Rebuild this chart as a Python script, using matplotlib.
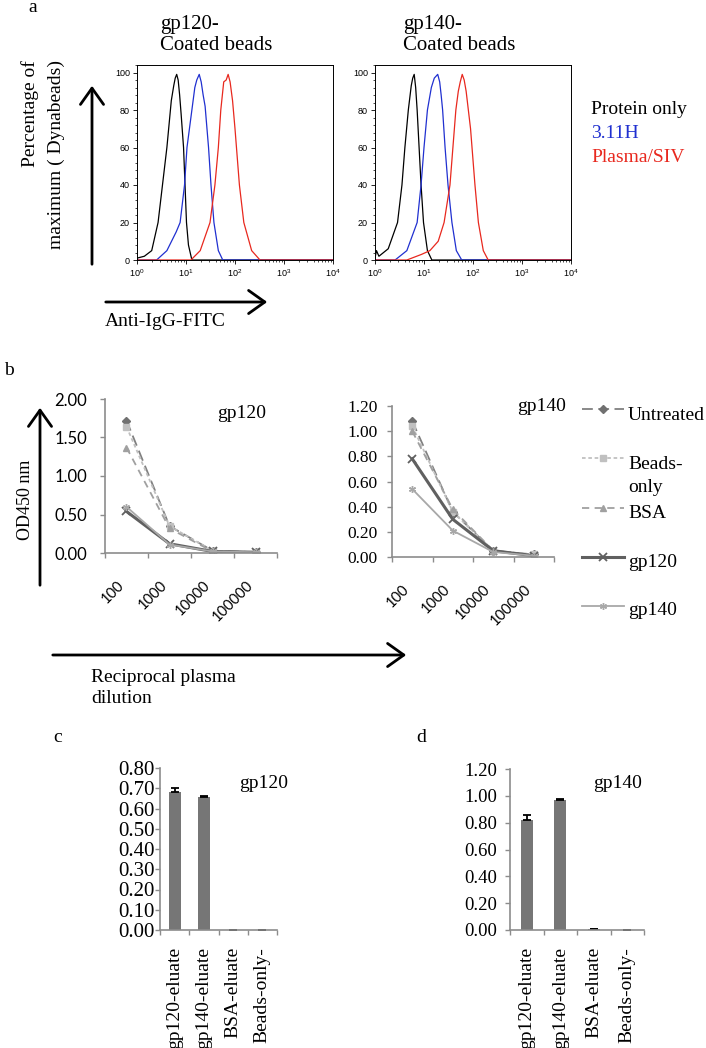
import numpy as np
import matplotlib.pyplot as plt
from matplotlib.lines import Line2D
from matplotlib.patches import FancyArrowPatch
from matplotlib.ticker import FormatStrFormatter, MultipleLocator

# ---- data -------------------------------------------------------------
# panel a: flow histograms (log10 fluorescence, % of max)
g120_black_lx = [0.0, 0.15, 0.3, 0.43, 0.52, 0.61, 0.70, 0.75, 0.78, 0.81, 0.84, 0.87, 0.90, 0.95, 0.98, 1.01, 1.05, 1.12, 4.0]
g120_black_y = [1, 2, 5, 20, 40, 60, 85, 93, 97, 99, 96, 88, 78, 60, 40, 20, 8, 0, 0]
g120_blue_lx = [0.0, 0.40, 0.61, 0.80, 0.88, 0.97, 1.02, 1.12, 1.18, 1.22, 1.27, 1.31, 1.35, 1.39, 1.46, 1.51, 1.57, 1.66, 1.75, 4.0]
g120_blue_y = [0, 0, 5, 15, 20, 40, 60, 80, 92, 96, 99, 95, 88, 82, 60, 40, 20, 5, 0, 0]
g120_red_lx = [0.0, 1.10, 1.29, 1.49, 1.59, 1.66, 1.71, 1.77, 1.82, 1.86, 1.90, 1.95, 2.00, 2.09, 2.18, 2.34, 2.51, 4.0]
g120_red_y = [0, 0, 5, 20, 40, 60, 80, 95, 96, 99, 95, 85, 70, 40, 20, 5, 0, 0]

g140_black_lx = [0.0, 0.03, 0.08, 0.27, 0.46, 0.55, 0.61, 0.68, 0.74, 0.77, 0.80, 0.83, 0.86, 0.90, 0.94, 0.99, 1.07, 1.16, 4.0]
g140_black_y = [1, 5, 2, 6, 20, 40, 60, 80, 93, 97, 99, 92, 80, 60, 40, 20, 5, 0, 0]
g140_blue_lx = [0.0, 0.41, 0.65, 0.86, 0.94, 1.00, 1.07, 1.15, 1.21, 1.28, 1.32, 1.35, 1.38, 1.43, 1.49, 1.57, 1.66, 1.77, 4.0]
g140_blue_y = [0, 0, 5, 20, 40, 60, 80, 92, 97, 99, 95, 88, 80, 60, 40, 20, 5, 0, 0]
g140_red_lx = [0.0, 0.65, 0.95, 1.12, 1.29, 1.41, 1.53, 1.59, 1.65, 1.70, 1.74, 1.78, 1.82, 1.86, 1.95, 2.04, 2.11, 2.21, 2.31, 4.0]
g140_red_y = [0, 0, 3, 5, 10, 20, 40, 60, 80, 90, 95, 99, 96, 90, 70, 40, 20, 5, 0, 0]

# panel b: ELISA titration
dilutions = ['100', '1000', '10000', '100000']
series_names = ['Untreated', 'Beads-only', 'BSA', 'gp120', 'gp140']
od_gp120 = {
    'Untreated': [1.72, 0.35, 0.03, 0.01],
    'Beads-only': [1.64, 0.35, 0.03, 0.01],
    'BSA': [1.37, 0.32, 0.02, 0.01],
    'gp120': [0.54, 0.12, 0.02, 0.01],
    'gp140': [0.60, 0.11, 0.02, 0.01],
}
od_gp140 = {
    'Untreated': [1.08, 0.36, 0.05, 0.02],
    'Beads-only': [1.04, 0.36, 0.05, 0.02],
    'BSA': [1.00, 0.38, 0.05, 0.01],
    'gp120': [0.78, 0.30, 0.05, 0.01],
    'gp140': [0.54, 0.21, 0.04, 0.01],
}

# panels c, d: eluates
eluates = ['gp120-eluate', 'gp140-eluate', 'BSA-eluate', 'Beads-only-']
c_vals = [0.68, 0.655, 0.0, 0.0]
c_err = [0.02, 0.005, 0.0, 0.0]
d_vals = [0.82, 0.97, 0.005, 0.003]
d_err = [0.04, 0.005, 0.0, 0.0]

# ---- layout helpers (pixel coords, y from top) -------------------------
W, H = 706, 1048
fig = plt.figure(figsize=(W / 100, H / 100), dpi=100)
SERIF = 'Liberation Serif'
SANS = 'Liberation Sans'


def box(x0, y0, x1, y1):
    return fig.add_axes([x0 / W, 1 - y1 / H, (x1 - x0) / W, (y1 - y0) / H])


def label(x, y, s, **kw):
    kw.setdefault('family', SERIF)
    kw.setdefault('fontsize', 14)
    kw.setdefault('va', 'baseline')
    fig.text(x / W, 1 - y / H, s, **kw)


def arrow(x0, y0, x1, y1):
    fig.add_artist(FancyArrowPatch((x0 / W, 1 - y0 / H), (x1 / W, 1 - y1 / H),
                                   transform=fig.transFigure,
                                   arrowstyle='->,head_length=0.45,head_width=0.32',
                                   mutation_scale=26, lw=2.0, color='black'))


# ---- panel a ----------------------------------------------------------
hist_sets = [
    ((137, 65, 333, 260), [(g120_black_lx, g120_black_y, 'black'),
                           (g120_blue_lx, g120_blue_y, '#2030d0'),
                           (g120_red_lx, g120_red_y, '#e8281e')]),
    ((375, 65, 571, 260), [(g140_black_lx, g140_black_y, 'black'),
                           (g140_blue_lx, g140_blue_y, '#2030d0'),
                           (g140_red_lx, g140_red_y, '#e8281e')]),
]
for rect, curves in hist_sets:
    ax = box(*rect)
    for lx, y, c in curves:
        ax.plot(10 ** np.array(lx), y, color=c, lw=0.9)
    ax.set_xscale('log')
    ax.set_xlim(1, 1e4)
    ax.set_ylim(0, 104)
    ax.set_yticks([0, 20, 40, 60, 80, 100])
    ax.yaxis.set_minor_locator(MultipleLocator(4))
    ax.tick_params(which='major', length=3, width=0.6, labelsize=6.5, pad=2)
    ax.tick_params(which='minor', length=1.5, width=0.5)
    for t in ax.get_xticklabels() + ax.get_yticklabels():
        t.set_family(SANS)
    for s in ax.spines.values():
        s.set_linewidth(0.7)

label(28, 12, 'a')
label(160, 29, 'gp120-', fontsize=15)
label(160, 50, 'Coated beads', fontsize=15)
label(403, 29, 'gp140-', fontsize=15)
label(403, 50, 'Coated beads', fontsize=15)
label(591, 114, 'Protein only')
label(591, 138, '3.11H', color='#2030d0')
label(591, 162, 'Plasma/SIV', color='#e8281e')
label(30, 60, 'Percentage of', rotation=90, ha='center', va='top')
label(56, 60, 'maximum ( Dynabeads)', rotation=90, ha='center', va='top')
arrow(92, 267, 92, 83)
arrow(103, 302, 270, 302)
label(105, 326, 'Anti-IgG-FITC')

# ---- panel b ----------------------------------------------------------
styles = {
    'Untreated': dict(color='#808080', ls=(0, (6, 3)), marker='D', ms=4, mfc='#707070', mec='#707070', lw=1.3),
    'Beads-only': dict(color='#c0c0c0', ls=(0, (2, 1.5)), marker='s', ms=4.5, lw=1.3),
    'BSA': dict(color='#a0a0a0', ls=(0, (4, 3)), marker='^', ms=4.5, lw=1.3),
    'gp120': dict(color='#606060', ls='-', marker='x', ms=6, mew=1.3, lw=2.2),
    'gp140': dict(color='#a8a8a8', ls='-', marker=(6, 2, 0), ms=5, mew=1, lw=1.3),
}
AXGRAY = '#8c8c8c'


def cat_axes(ax, cats, pad, fs, family, rotation):
    n = len(cats)
    ax.set_xlim(-0.5, n - 0.5)
    ax.set_xticks(np.arange(n + 1) - 0.5, [''] * (n + 1))
    ax.set_xticks(np.arange(n), cats, minor=True)
    ax.tick_params(axis='x', which='major', length=3.6, width=1, color=AXGRAY)
    ax.tick_params(axis='x', which='minor', length=0, pad=pad, labelsize=fs)
    for t in ax.get_xticklabels(minor=True):
        t.set_family(family)
        t.set_rotation(rotation)
        if rotation == 45:
            t.set_ha('right')
    for s in ['top', 'right']:
        ax.spines[s].set_visible(False)
    for s in ['left', 'bottom']:
        ax.spines[s].set_color(AXGRAY)
        ax.spines[s].set_linewidth(1.2)


line_sets = [((105, 399, 277, 553), od_gp120, 2.0, 0.5, 'Lato', 12, 9.4),
             ((392, 406, 554, 557), od_gp140, 1.2, 0.2, SERIF, 12.5, 6.5)]
for rect, data, ymax, step, yfam, yfs, ypad in line_sets:
    ax = box(*rect)
    xs = np.arange(len(dilutions))
    for name in series_names:
        ax.plot(xs, data[name], **styles[name])
    ax.set_ylim(0, ymax)
    ax.set_yticks(np.arange(0, ymax + step / 2, step))
    ax.yaxis.set_major_formatter(FormatStrFormatter('%.2f'))
    ax.tick_params(axis='y', length=3.6, width=1, color=AXGRAY, pad=ypad, labelsize=yfs)
    for t in ax.get_yticklabels():
        t.set_family(yfam)
    cat_axes(ax, dilutions, 18, 10.5, 'Lato', 45)

label(4, 375, 'b')
label(217, 418, 'gp120')
label(517, 411, 'gp140')
label(25, 500, 'OD450 nm', rotation=90, ha='center', va='center', fontsize=13)
arrow(40, 588, 40, 405)
arrow(50, 655, 409, 655)
label(91, 682, 'Reciprocal plasma')
label(91, 703, 'dilution')

# legend for panel b
leg_rows = [('Untreated', 409, [('Untreated', 420)]),
            ('Beads-only', 458, [('Beads-', 469), ('only', 492)]),
            ('BSA', 508, [('BSA', 518)]),
            ('gp120', 557, [('gp120', 567)]),
            ('gp140', 606, [('gp140', 615)])]
for name, ly, texts in leg_rows:
    fy = 1 - ly / H
    fig.add_artist(Line2D([582 / W, 603 / W, 624 / W], [fy, fy, fy], transform=fig.transFigure,
                          markevery=[1], **styles[name]))
    for s, by in texts:
        label(628, by, s)

# ---- panels c and d ---------------------------------------------------
bar_sets = [((160, 768, 277, 930), c_vals, c_err, 0.8, 0.1, 15, 0.5, 0.41),
            ((510, 769, 644, 930), d_vals, d_err, 1.2, 0.2, 13.5, 5.8, 0.37)]
for rect, vals, err, ymax, step, yfs, ypad, bw in bar_sets:
    ax = box(*rect)
    xs = np.arange(len(eluates))
    ax.bar(xs, vals, width=bw, color='#767676',
           yerr=[np.zeros(len(err)), err], capsize=3,
           error_kw=dict(ecolor='black', elinewidth=1.3, capthick=1.3))
    ax.set_ylim(0, ymax)
    ax.set_yticks(np.arange(0, ymax + step / 2, step))
    ax.yaxis.set_major_formatter(FormatStrFormatter('%.2f'))
    ax.tick_params(axis='y', length=3.6, width=1, color=AXGRAY, pad=ypad, labelsize=yfs)
    for t in ax.get_yticklabels():
        t.set_family(SERIF)
    cat_axes(ax, eluates, 12, 14, SERIF, 90)

label(53, 742, 'c')
label(239, 788, 'gp120')
label(416, 742, 'd')
label(593, 788, 'gp140')

fig.savefig('out.png', dpi=100)
